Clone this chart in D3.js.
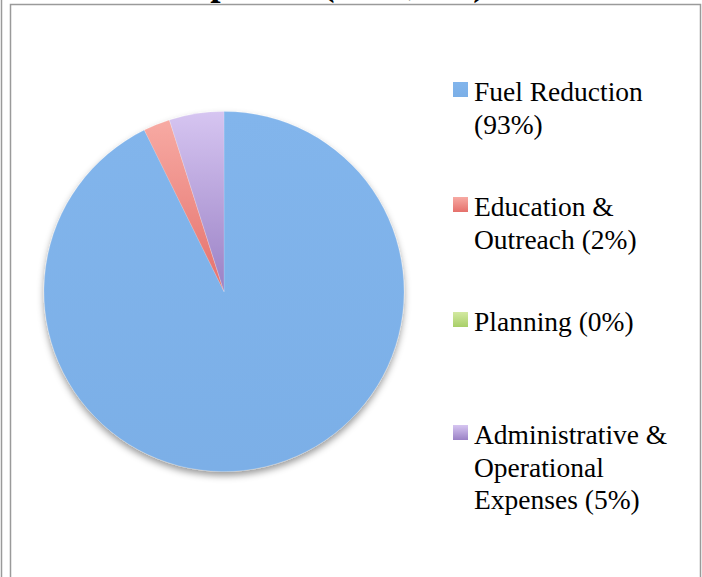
<!DOCTYPE html>
<html>
<head>
<meta charset="utf-8">
<script src="https://cdn.jsdelivr.net/npm/d3@7"></script>
<style>
  html, body { margin: 0; padding: 0; background: #fff; }
  svg { display: block; }
</style>
</head>
<body>
<svg id="chart" width="702" height="577"></svg>
<script>
// ---- data ----
const titleText = "Expenses ($125,000)";
const categories = ["Fuel Reduction", "Education & Outreach", "Planning", "Administrative & Operational Expenses"];
const values = [92.7, 2.4, 0, 4.9];
const legendLines = [
  ["Fuel Reduction", "(93%)"],
  ["Education &", "Outreach (2%)"],
  ["Planning (0%)"],
  ["Administrative &", "Operational", "Expenses (5%)"]
];
const colorsTop = ["#82b5ec", "#f7aaa3", "#d3e9a1", "#d6c5f1"];
const colorsBottom = ["#7bafe7", "#e5706b", "#a8cf68", "#9a81c5"];

const svg = d3.select("#chart");
const defs = svg.append("defs");

// gradients
categories.forEach((c, i) => {
  const g = defs.append("linearGradient")
    .attr("id", "grad" + i)
    .attr("x1", 0).attr("y1", 0).attr("x2", 0).attr("y2", 1);
  g.append("stop").attr("offset", "0%").attr("stop-color", colorsTop[i]);
  g.append("stop").attr("offset", "100%").attr("stop-color", colorsBottom[i]);
});

const shadow = defs.append("filter").attr("id", "shadow")
  .attr("x", "-20%").attr("y", "-20%").attr("width", "140%").attr("height", "140%");
shadow.append("feDropShadow")
  .attr("dx", 0).attr("dy", 4).attr("stdDeviation", 3.5)
  .attr("flood-color", "#000").attr("flood-opacity", 0.4);

// frame lines
svg.append("line").attr("x1", 1.5).attr("x2", 1.5).attr("y1", 0).attr("y2", 577)
  .attr("stroke", "#9a9a9a").attr("stroke-width", 1.5);
svg.append("path")
  .attr("d", "M10.5,577 V4.5 H700.5 V577")
  .attr("fill", "none").attr("stroke", "#9a9a9a").attr("stroke-width", 1.5);

// title (mostly cut off above the frame)
svg.append("text")
  .attr("x", 167).attr("y", -5.5)
  .attr("font-family", "'Liberation Serif', serif")
  .attr("font-weight", "bold")
  .attr("font-size", 37)
  .attr("fill", "#000")
  .text(titleText);

// pie
const cx = 224, cy = 291.5, r = 180;
const pie = d3.pie().sort(null).value(d => d)(values);
const arc = d3.arc().innerRadius(0).outerRadius(r);

const gp = svg.append("g").attr("transform", `translate(${cx},${cy})`);
gp.append("g").attr("filter", "url(#shadow)")
  .selectAll("path").data(pie).join("path")
  .attr("d", arc)
  .attr("fill", (d, i) => `url(#grad${i})`)
  .attr("stroke", "rgba(255,255,255,0.25)")
  .attr("stroke-width", 0.6);

// legend
const legendY = [82, 197, 312, 425];
const lineH = 32.7;
const lg = svg.append("g");
legendLines.forEach((lines, i) => {
  lg.append("rect")
    .attr("x", 453).attr("y", legendY[i])
    .attr("width", 15).attr("height", 15)
    .attr("fill", `url(#grad${i})`);
  const t = lg.append("text")
    .attr("font-family", "'Liberation Serif', serif")
    .attr("font-size", 27.5)
    .attr("fill", "#000");
  lines.forEach((ln, j) => {
    t.append("tspan").attr("x", 474).attr("y", legendY[i] + 19 + j * lineH).text(ln);
  });
});
</script>
</body>
</html>
